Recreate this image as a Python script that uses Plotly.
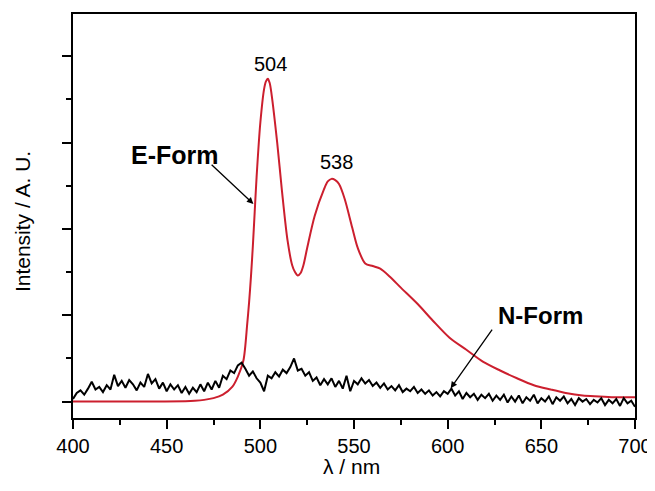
import plotly.graph_objects as go

# N-Form (black, noisy) sampled every 2 nm from 400 to 700
n_wl = list(range(400, 701, 2))
n_int = [0.03, 0.10, 0.13, 0.08, 0.15, 0.23, 0.14, 0.17, 0.11, 0.19,
         0.14, 0.31, 0.18, 0.24, 0.16, 0.25, 0.20, 0.13, 0.22, 0.17,
         0.32, 0.21, 0.26, 0.15, 0.22, 0.12, 0.20, 0.14, 0.19, 0.10,
         0.17, 0.09, 0.16, 0.11, 0.20, 0.12, 0.22, 0.14, 0.24, 0.16,
         0.30, 0.26, 0.36, 0.33, 0.42, 0.45, 0.38, 0.30, 0.35, 0.27,
         0.22, 0.12, 0.30, 0.27, 0.34, 0.29, 0.37, 0.33, 0.40, 0.50,
         0.36, 0.38, 0.30, 0.34, 0.24, 0.28, 0.19, 0.26, 0.20, 0.27,
         0.17, 0.24, 0.15, 0.30, 0.12, 0.24, 0.20, 0.27, 0.21, 0.25,
         0.18, 0.22, 0.16, 0.21, 0.14, 0.18, 0.13, 0.19, 0.11, 0.15,
         0.12, 0.17, 0.10, 0.14, 0.09, 0.13, 0.07, 0.11, 0.06, 0.12,
         0.09, 0.15, 0.07, 0.12, 0.03, 0.10, 0.05, 0.09, 0.02, 0.08,
         0.04, 0.09, 0.01, 0.07, 0.02, 0.08, -0.01, 0.06, 0.00, 0.07,
         -0.02, 0.05, 0.01, 0.08, -0.02, 0.04, 0.00, 0.06, -0.03, 0.05,
         0.01, 0.06, -0.02, 0.03, -0.04, 0.04, 0.00, 0.03, -0.03, 0.02,
         -0.01, 0.04, -0.04, 0.02, -0.02, 0.03, -0.05, 0.04, -0.02, 0.01,
         -0.06]

# E-Form (red)
e_wl = [400, 420, 440, 460, 465, 470, 475, 480, 485, 488, 491, 493, 494, 495,
        496, 497, 498, 500, 502, 503, 504, 505, 506, 509, 511.5, 514.5, 517,
        518.5, 520, 521.5, 523, 525, 529, 534, 536, 538, 540, 542, 545, 549,
        552, 556, 560, 564, 569, 575, 584, 592, 601, 610, 619, 628, 637, 646,
        655, 663, 672, 681, 690, 700]
e_int = [0.0, 0.0, 0.0, 0.005, 0.01, 0.02, 0.04, 0.08, 0.17, 0.29, 0.48, 0.9, 1.15, 1.45,
         1.8, 2.2, 2.6, 3.23, 3.62, 3.71, 3.74, 3.69, 3.56, 3.0, 2.45, 1.87, 1.58,
         1.50, 1.46, 1.49, 1.58, 1.78, 2.15, 2.46, 2.55, 2.58, 2.565, 2.52, 2.35, 2.02,
         1.78, 1.60, 1.57, 1.54, 1.45, 1.32, 1.13, 0.94, 0.74, 0.60, 0.46, 0.36, 0.27, 0.19,
         0.14, 0.10, 0.07, 0.06, 0.05, 0.05]

x_ticks = [400, 450, 500, 550, 600, 650, 700]

FONT = "Arial, Liberation Sans, sans-serif"

fig = go.Figure()
fig.add_trace(go.Scatter(x=e_wl, y=e_int, mode="lines",
                         line=dict(color="#cc1f2e", width=2, shape="spline", smoothing=0.8),
                         showlegend=False))
fig.add_trace(go.Scatter(x=n_wl, y=n_int, mode="lines",
                         line=dict(color="black", width=2),
                         showlegend=False))

annots = [
    dict(x=505.2, y=3.91, text="504", showarrow=False, font=dict(size=20, color="black", family=FONT)),
    dict(x=540.4, y=2.77, text="538", showarrow=False, font=dict(size=20, color="black", family=FONT)),
    dict(x=454.6, y=2.86, text="<b>E-Form</b>", showarrow=False, font=dict(size=25, color="black", family=FONT)),
    dict(x=649.6, y=1.0, text="<b>N-Form</b>", showarrow=False, font=dict(size=24, color="black", family=FONT)),
    dict(x=496.3, y=2.29, ax=473.2, ay=2.76, axref="x", ayref="y", text="", showarrow=True,
         arrowhead=2, arrowsize=1, arrowwidth=1.3, arrowcolor="black"),
    dict(x=601.6, y=0.155, ax=624.3, ay=0.85, axref="x", ayref="y", text="", showarrow=True,
         arrowhead=2, arrowsize=1, arrowwidth=1.3, arrowcolor="black"),
]
for a in annots:
    a.setdefault("xref", "x")
    a.setdefault("yref", "y")
    fig.add_annotation(**a)

# axis titles as paper-positioned text
fig.add_annotation(xref="paper", yref="paper", x=0.495, y=-0.119, xanchor="center", yanchor="middle",
                   text="λ / nm", showarrow=False, font=dict(size=21, family=FONT, color="black"))
fig.add_annotation(xref="paper", yref="paper", x=-0.0907, y=0.485, xanchor="center", yanchor="middle",
                   text="Intensity / A. U.", textangle=-90, showarrow=False,
                   font=dict(size=21, family=FONT, color="black"))

fig.update_layout(
    width=655, height=491,
    margin=dict(l=65, r=28, t=6, b=81),
    paper_bgcolor="white", plot_bgcolor="white",
    font=dict(family=FONT, color="black"),
    xaxis=dict(range=[400, 700], tickvals=x_ticks, ticktext=[str(v) for v in x_ticks],
               ticks="outside", ticklen=9, tickwidth=1.5, tickcolor="black",
               showline=True, linecolor="black", linewidth=1.5, mirror=True,
               showgrid=False, zeroline=False, automargin=False,
               tickfont=dict(size=20, family=FONT),
               minor=dict(dtick=25, tick0=400, ticks="outside", ticklen=5, tickwidth=1.5, tickcolor="black", showgrid=False)),
    yaxis=dict(range=[-0.19, 4.49], tick0=0, dtick=1,
               ticks="outside", ticklen=9, tickwidth=1.5, tickcolor="black",
               showticklabels=False,
               showline=True, linecolor="black", linewidth=1.5, mirror=True,
               showgrid=False, zeroline=False, automargin=False,
               minor=dict(dtick=0.5, tick0=0, ticks="outside", ticklen=5, tickwidth=1.5, tickcolor="black", showgrid=False)),
)

fig.write_html("out.html")
